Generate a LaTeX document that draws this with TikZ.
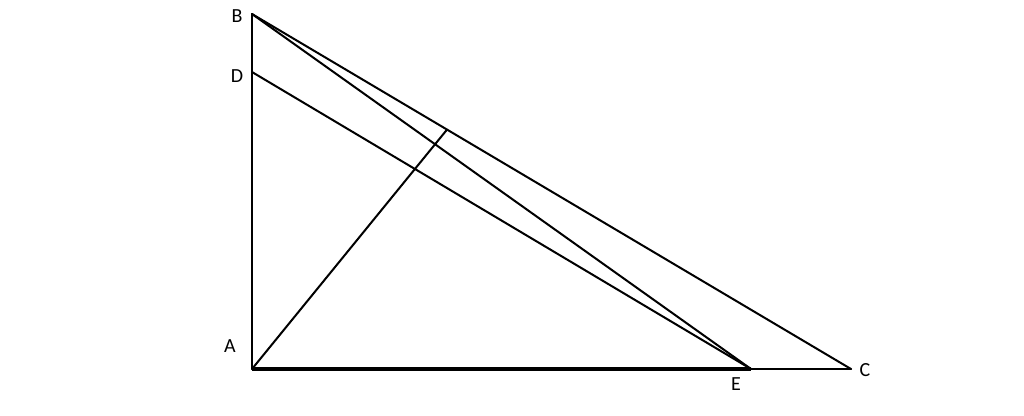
\documentclass[tikz,border=0pt]{standalone}
\usepackage{fontspec}
\setmainfont{Carlito}
\begin{document}
\begin{tikzpicture}[x=1pt,y=-1pt,
  seg/.style={line width=2pt,line cap=round},
  thick seg/.style={line width=3.2pt},
  lbl/.style={font=\fontsize{20}{22}\selectfont,inner sep=0pt}]
\useasboundingbox (0,0) rectangle (1024,415);
\coordinate (B) at (252,14);
\coordinate (D) at (252,72);
\coordinate (A) at (252,369);
\coordinate (E) at (751,369);
\coordinate (C) at (851,369);
\coordinate (F) at (447,129.6);
\draw[seg] (A) -- (B);
\draw[seg] (B) -- (C);
\draw[seg] (E) -- (C);
\draw[thick seg] (A) -- (E);
\draw[seg] (B) -- (E);
\draw[seg] (D) -- (E);
\draw[seg] (A) -- (F);
\node[lbl] (lB) at (237,16) {B};
\node[lbl] (lD) at (237,76) {D};
\node[lbl] (lA) at (230,346) {A};
\node[lbl] (lE) at (736,384) {E};
\node[lbl] (lC) at (865,370) {C};
\end{tikzpicture}
\end{document}
